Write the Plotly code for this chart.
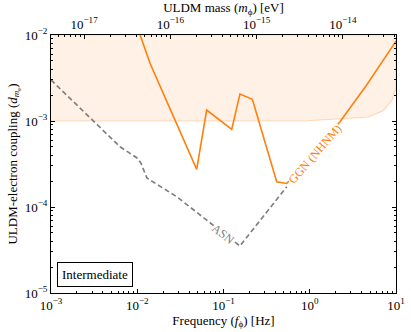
import numpy as np
import plotly.graph_objects as go

# -----------------------------
# Data
# -----------------------------
GGN_F = [0.0108, 0.01406, 0.0489, 0.0638, 0.1245, 0.155, 0.216, 0.414, 0.541, 2.24, 4.57, 9.5, 10.0]
GGN_D = [1.0e-2, 4.69e-3, 2.74e-4, 1.34e-3, 8.0e-4, 2.06e-3, 1.79e-3, 1.97e-4, 1.88e-4, 9.8e-4, 2.62e-3, 8.0e-3, 8.5e-3]

ASN_F = [1e-3, 2.96e-3, 6.31e-3, 9.93e-3, 0.0110, 0.01297, 0.0289, 0.155, 0.541]
ASN_D = [3.0e-3, 1.03e-3, 5.02e-4, 3.72e-4, 3.25e-4, 2.17e-4, 1.31e-4, 3.52e-5, 1.72e-4]

EXCL_F = [1e-3, 0.835, 4.73, 7.06, 9.0, 10.0]
EXCL_D = [1.0e-3, 1.0e-3, 1.11e-3, 1.31e-3, 1.75e-3, 2.42e-3]
EXCL_TOP = 1e-2

# f -> m conversion: m = 2*pi*hbar*f, h = 4.1357e-15 eV s
H_EVS = 4.1357e-15

F_TICKS = [-3, -2, -1, 0, 1]
D_TICKS = [-2, -3, -4, -5]
M_TICKS = [-17, -16, -15, -14]

ORANGE = "#ff7f0e"
GRAY = "#808080"
FONT = "Liberation Serif"


def pow_label(e):
    return "10<sup>" + str(e).replace("-", "\u2212") + "</sup>"


fig = go.Figure()

# excluded region (shaded)
fig.add_trace(go.Scatter(
    x=EXCL_F + [EXCL_F[-1], EXCL_F[0]],
    y=EXCL_D + [EXCL_TOP, EXCL_TOP],
    fill="toself",
    fillcolor="rgba(255,127,14,0.11)",
    line=dict(color="rgba(255,127,14,0.25)", width=1.2),
    mode="lines",
    hoverinfo="skip",
    showlegend=False,
))

# ASN
fig.add_trace(go.Scatter(
    x=ASN_F, y=ASN_D, mode="lines",
    line=dict(color=GRAY, width=1.7, dash="5px,3px"),
    showlegend=False,
))

# GGN (NHNM)
fig.add_trace(go.Scatter(
    x=GGN_F, y=GGN_D, mode="lines",
    line=dict(color=ORANGE, width=1.6),
    showlegend=False,
))

m_lo = np.log10(H_EVS * 1e-3)
m_hi = np.log10(H_EVS * 1e1)

axis_common = dict(
    showline=True, linecolor="black", linewidth=1,
    ticks="inside", ticklen=4, tickcolor="black",
    showgrid=False, zeroline=False, automargin=False,
    tickfont=dict(family=FONT, size=13, color="black"),
)
minor_ticks = dict(ticks="inside", ticklen=2, tickcolor="black", dtick="D1", showgrid=False)

fig.update_layout(
    width=411, height=332,
    margin=dict(l=51, r=15, t=35, b=39),
    plot_bgcolor="white",
    paper_bgcolor="white",
    font=dict(family=FONT, size=13, color="black"),
    xaxis=dict(
        type="log", range=[-3, 1],
        tickvals=[10.0 ** e for e in F_TICKS],
        ticktext=[pow_label(e) for e in F_TICKS],
        mirror=True,
        minor=minor_ticks,
        title=dict(text="Frequency (<i>f</i><sub>\u03d5</sub>) [Hz]", standoff=2,
                   font=dict(family=FONT, size=13)),
        **axis_common,
    ),
    xaxis2=dict(
        type="log", range=[m_lo, m_hi],
        overlaying="x", side="top",
        tickvals=[10.0 ** e for e in M_TICKS],
        ticktext=[pow_label(e) for e in M_TICKS],
        minor=minor_ticks,
        title=dict(text="ULDM mass (<i>m</i><sub>\u03d5</sub>) [eV]", standoff=0,
                   font=dict(family=FONT, size=13)),
        **axis_common,
    ),
    yaxis=dict(
        type="log", range=[-5, -2],
        tickvals=[10.0 ** e for e in D_TICKS],
        ticktext=[pow_label(e) for e in D_TICKS],
        mirror="ticks",
        minor=minor_ticks,
        title=dict(text="ULDM-electron coupling (<i>d</i><sub><i>m</i><sub>e</sub></sub>)",
                   standoff=4, font=dict(family=FONT, size=13)),
        **axis_common,
    ),
)

# dummy trace so the top axis is drawn
fig.add_trace(go.Scatter(x=[10 ** m_lo], y=[None], xaxis="x2", mode="markers",
                         showlegend=False, hoverinfo="skip"))

# in-line labels
fig.add_annotation(
    x=0.061, y=-3.384, text="GGN (NHNM)", textangle=-49,
    showarrow=False, bgcolor="white",
    font=dict(family=FONT, size=12, color=ORANGE),
    borderpad=0,
)
fig.add_annotation(
    x=-1.006, y=-4.314, text="ASN", textangle=38,
    showarrow=False, bgcolor="white",
    font=dict(family=FONT, size=12, color=GRAY),
    borderpad=0,
)

# regime box
fig.add_annotation(
    xref="paper", yref="paper", x=0.017, y=0.025,
    xanchor="left", yanchor="bottom",
    text="Intermediate", showarrow=False,
    bgcolor="white", bordercolor="black", borderwidth=1, borderpad=4,
    font=dict(family=FONT, size=13, color="black"),
)

# page has a default body margin; drop it so the figure sits at the corner
fig.write_html(
    "out.html",
    config={"displayModeBar": False},
    post_script="document.body.style.margin='0';",
)
